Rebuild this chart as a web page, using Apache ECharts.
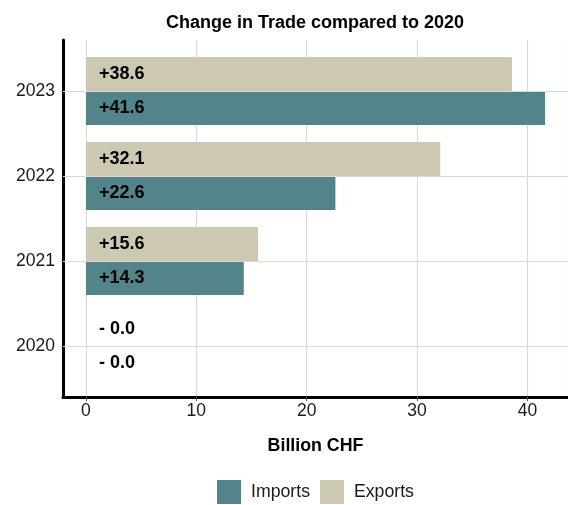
<!DOCTYPE html>
<html>
<head>
<meta charset="utf-8">
<script src="https://cdn.jsdelivr.net/npm/echarts@6/dist/echarts.min.js"></script>
<style>
html,body{margin:0;padding:0;background:#fff;}
#chart{width:568px;height:505px;}
</style>
</head>
<body>
<div id="chart"></div>
<script>
const years = ['2020', '2021', '2022', '2023'];
const imports = [0, 14.3, 22.6, 41.6];
const exports = [0, 15.6, 32.1, 38.6];
const xTicks = [0, 10, 20, 30, 40];

const FONT = '"Liberation Sans", Arial, sans-serif';
const X_MIN = -2.08, X_MAX = 43.68;

function fmt(p) {
  const v = p.value;
  return v > 0 ? '+' + v.toFixed(1) : '- ' + Math.abs(v).toFixed(1);
}

const chart = echarts.init(document.getElementById('chart'), null, {renderer: 'canvas'});
chart.setOption({
  animation: false,
  backgroundColor: '#ffffff',
  textStyle: {fontFamily: FONT},
  title: {
    text: 'Change in Trade compared to 2020',
    left: 315, top: 14, padding: 0, textAlign: 'center',
    textStyle: {fontFamily: FONT, fontSize: 18, fontWeight: 'bold', color: '#000'}
  },
  legend: {
    data: ['Imports', 'Exports'],
    left: 217, top: 480, padding: 0,
    icon: 'rect', itemWidth: 24, itemHeight: 24, itemGap: 10,
    textStyle: {fontFamily: FONT, fontSize: 17.7, color: '#1a1a1a', padding: [0, 0, 0, 5]}
  },
  grid: [
    {left: 63, right: 0, top: 40, height: 357, containLabel: false},
    {left: 63, right: 0, top: 48.5, height: 340, containLabel: false}
  ],
  xAxis: [
    {
      type: 'value', gridIndex: 0, min: X_MIN, max: X_MAX,
      name: 'Billion CHF', nameLocation: 'middle', nameGap: 40,
      nameTextStyle: {fontFamily: FONT, fontSize: 17.8, fontWeight: 'bold', color: '#000'},
      axisLine: {show: true, onZero: false, lineStyle: {color: '#000', width: 3}},
      axisTick: {show: true, length: 4, lineStyle: {color: '#555', width: 1}},
      axisLabel: {
        show: true, margin: 5, fontFamily: FONT, fontSize: 17.5, color: '#1a1a1a',
        showMinLabel: false, showMaxLabel: false,
        formatter: function (v) { return xTicks.indexOf(v) >= 0 ? String(v) : ''; }
      },
      splitLine: {show: true, lineStyle: {color: '#d9d9d9', width: 1.2}}
    },
    {
      type: 'value', gridIndex: 1, min: X_MIN, max: X_MAX, show: false
    }
  ],
  yAxis: [
    {
      type: 'value', gridIndex: 0, min: 0, max: 1,
      axisLine: {show: true, onZero: false, lineStyle: {color: '#000', width: 3}},
      axisTick: {show: false}, axisLabel: {show: false}, splitLine: {show: false}
    },
    {
      type: 'category', gridIndex: 1, data: years,
      axisLine: {show: false}, axisTick: {show: false},
      axisLabel: {margin: 8, fontFamily: FONT, fontSize: 17.5, color: '#1a1a1a', padding: [4, 0, 0, 0]},
      splitLine: {show: false}
    }
  ],
  series: [
    {
      name: '_grid', type: 'line', xAxisIndex: 1, yAxisIndex: 1, data: [], z: 1,
      silent: true,
      markLine: {
        silent: true, symbol: ['none', 'none'], animation: false,
        label: {show: false},
        lineStyle: {color: '#d9d9d9', width: 1.2, type: 'solid'},
        data: years.map(function (y) { return {yAxis: y}; })
      }
    },
    {
      name: 'Exports', type: 'bar', xAxisIndex: 1, yAxisIndex: 1, z: 3,
      data: exports, barWidth: 34, barGap: '0%',
      itemStyle: {color: '#ccc8b2'},
      label: {show: true, position: 'insideLeft', distance: 13, formatter: fmt,
        fontFamily: FONT, fontSize: 18, fontWeight: 'bold', color: '#000'}
    },
    {
      name: 'Imports', type: 'bar', xAxisIndex: 1, yAxisIndex: 1, z: 3,
      data: imports, barWidth: 34, barGap: '0%',
      itemStyle: {color: '#538489'},
      label: {show: true, position: 'insideLeft', distance: 13, formatter: fmt,
        fontFamily: FONT, fontSize: 18, fontWeight: 'bold', color: '#000'}
    }
  ]
});
</script>
</body>
</html>
